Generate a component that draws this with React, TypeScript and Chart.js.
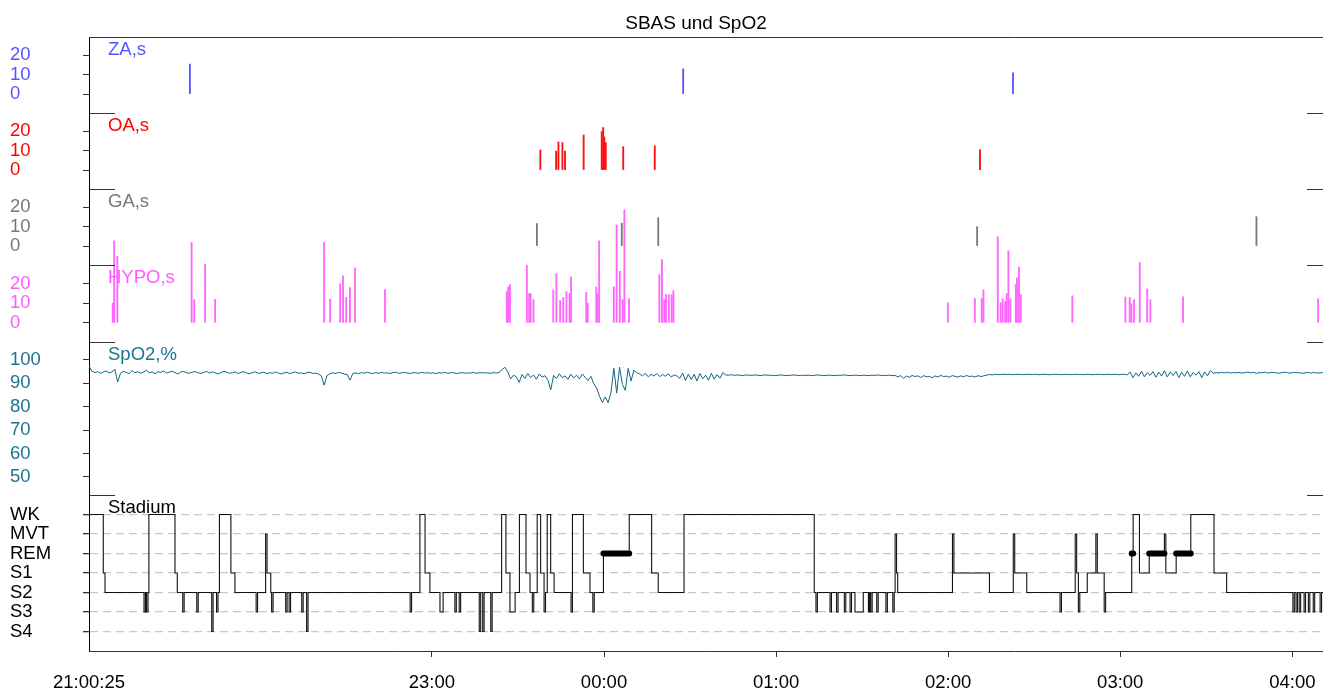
import { useEffect, useRef } from 'react';
import { Chart, registerables } from 'chart.js';

Chart.register(...registerables);

const FONT = '"Liberation Sans", Arial, Helvetica, sans-serif';
const TITLE = 'SBAS und SpO2';

// time unit: minutes after 21:00
const START_MIN = 0.42; // 21:00:25
const END_MIN = 430.7;
const X_TICK_VALUES = [0.42, 120, 180, 240, 300, 360, 420];
const X_TICK_LABELS = ['21:00:25', '23:00', '00:00', '01:00', '02:00', '03:00', '04:00'];

const PANEL_IDS = ['yZA', 'yOA', 'yGA', 'yHYPO', 'ySpO2', 'yStage'];
const PANEL_TITLES = ['ZA,s', 'OA,s', 'GA,s', 'HYPO,s', 'SpO2,%', 'Stadium'];
const PANEL_COLORS = ['#5555ff', '#ff0000', '#777777', '#ff5cff', '#1b7390', '#000000'];

const EVENT_TICKS = [0, 10, 20];
const SPO2_TICKS = [50, 60, 70, 80, 90, 100];
const STAGE_LABELS = ['S4', 'S3', 'S2', 'S1', 'REM', 'MVT', 'WK'];

const ZA_TIMES = [35.6, 207.6, 322.6];
const ZA_DURATIONS = [15.5, 13, 11];

const OA_TIMES = [157.8, 163.3, 164.1, 165.5, 166.4, 172.9, 179.2, 179.7, 180.1, 180.6, 186.7, 197.7, 311.1];
const OA_DURATIONS = [10.4, 9.8, 14.5, 14.2, 9.8, 18.1, 19.9, 22, 17.1, 14.2, 12.1, 12.6, 10.4];

const GA_TIMES = [156.6, 186.2, 198.9, 310.1, 407.5];
const GA_DURATIONS = [11.6, 11.8, 14.7, 10, 15.2];

const HYPO_TIMES = [
  8.7, 9.2, 10.3, 36.2, 37.1, 40.9, 44.4, 82.4, 84.5, 88.0, 89.0, 90.1, 91.4, 93.2, 103.6,
  146.1, 146.6, 147.2, 153.1, 153.9, 154.4, 155.4, 162.3, 163.4, 164.7, 165.8, 166.9, 168.0, 168.5,
  173.8, 174.3, 177.3, 177.7, 178.3, 183.4, 184.4, 185.5, 186.5, 187.1, 188.7,
  199.3, 200.2, 201.0, 201.6, 202.6, 203.6, 204.2,
  299.9, 309.3, 311.7, 312.3, 317.3, 318.3, 319.0, 319.9, 320.4, 321.0, 321.7, 323.6, 324.0, 324.7, 325.3,
  343.3, 361.8, 363.3, 363.9, 364.8, 366.8, 369.4, 370.5, 381.9, 429.0,
];
const HYPO_DURATIONS = [
  10, 41.8, 33.9, 41, 11.8, 30, 12, 41, 12, 20, 24, 13, 18, 28, 17,
  15.9, 18.3, 19.5, 29.4, 14.9, 14.9, 11.8, 16.6, 25.2, 11.4, 13, 15.9, 14.9, 23.5,
  15.5, 10, 18.3, 14.9, 41.8, 18.3, 49.9, 26.3, 11.8, 57.7, 12.4,
  24.6, 32.3, 11.8, 14.4, 14.4, 14.4, 16.4,
  10.2, 12.4, 12.4, 16.9, 43.9, 10.2, 12.3, 10.9, 14.9, 36.8, 12.3, 19.5, 23, 28.5, 14.4,
  13.8, 13.2, 13, 9.7, 11.8, 30.8, 17.3, 11.8, 13.2, 12.3,
];

// SpO2 sampled once per minute from 21:00:25
const SPO2_START = 0.42;
const SPO2_STEP = 1;
const SPO2_VALUES = [
  97.5, 95.2, 94.6, 95.0, 94.3, 94.8, 95.3, 94.5, 94.9, 96.0,
  90.6, 94.4, 95.1, 94.7, 94.2, 95.4, 94.6, 95.0, 94.3, 94.8,
  95.6, 94.5, 94.9, 94.1, 95.0, 94.7, 95.3, 94.4, 94.8, 95.2,
  94.6, 94.0, 94.9, 95.1, 94.5, 94.3, 94.8, 95.0, 94.6, 94.2,
  94.7, 95.1, 94.4, 94.9, 94.5, 94.0, 94.6, 95.2, 94.8, 94.3,
  94.6, 94.9, 94.2, 94.7, 95.0, 94.4, 94.1, 94.6, 94.9, 94.3,
  94.5, 94.8, 94.1, 94.6, 94.3, 94.9, 94.4, 94.0, 94.5, 94.7,
  94.2, 94.6, 94.9, 94.3, 94.5, 94.1, 94.6, 94.8, 94.2, 94.4,
  94.0, 93.2, 89.2, 93.4, 94.1, 94.5, 94.2, 94.7, 94.4, 94.0,
  93.8, 91.4, 94.2, 94.5, 94.1, 94.6, 94.3, 94.8, 94.4, 94.2,
  94.6, 94.3, 94.7, 94.4, 94.5, 94.2, 94.6, 94.8, 94.3, 94.5,
  94.7, 94.4, 94.2, 94.6, 94.5, 94.3, 94.7, 94.4, 94.6, 94.3,
  94.5, 94.2, 94.6, 94.4, 94.7, 94.3, 94.5, 94.6, 94.2, 94.4,
  94.6, 94.3, 94.5, 94.4, 94.7, 94.3, 94.5, 94.6, 94.4, 94.5,
  94.3, 94.6, 94.4, 94.7, 95.8, 96.9, 95.0, 91.9, 93.5, 92.8,
  90.4, 93.8, 92.1, 94.2, 92.5, 93.6, 91.8, 94.0, 92.6, 93.3,
  91.5, 87.2, 93.4, 92.0, 94.1, 92.4, 93.2, 91.7, 93.9, 92.3,
  93.5, 91.9, 94.0, 92.6, 91.2, 93.0, 89.8, 88.0, 84.5, 81.8,
  84.2, 81.7, 86.0, 96.5, 85.8, 96.9, 89.5, 87.0, 96.4, 91.0,
  95.6, 94.6, 94.0, 93.2, 94.3, 92.8, 93.9, 93.1, 94.2, 92.9,
  93.8, 93.0, 94.1, 92.7, 93.6, 93.2, 92.1, 94.4, 91.2, 94.0,
  91.6, 93.9, 91.0, 94.2, 92.0, 93.5, 91.3, 94.3, 91.8, 93.7,
  92.2, 94.6, 93.6, 93.5, 93.7, 93.4, 93.6, 93.5, 93.3, 93.6,
  93.5, 93.4, 93.6, 93.5, 93.3, 93.5, 93.6, 93.4, 93.5, 93.3,
  93.4, 93.6, 93.5, 93.3, 93.4, 93.5, 93.6, 93.4, 93.3, 93.5,
  93.4, 93.5, 93.3, 93.4, 93.6, 93.5, 93.3, 93.4, 93.5, 93.4,
  93.3, 93.5, 93.4, 93.6, 93.5, 93.3, 93.4, 93.5, 93.4, 93.3,
  93.5, 93.4, 93.3, 93.5, 93.4, 93.6, 93.4, 93.3, 93.4, 93.5,
  93.3, 93.4, 92.8, 93.3, 92.2, 93.1, 92.6, 93.4, 92.9, 93.2,
  92.5, 93.3, 92.8, 93.0, 92.4, 93.2, 92.7, 93.4, 92.9, 93.1,
  92.6, 93.3, 93.0, 92.7, 93.2, 92.8, 93.4, 92.9, 93.1, 92.7,
  93.3, 92.9, 93.2, 93.5, 93.8, 93.6, 93.9, 93.7, 93.8, 93.9,
  93.8, 93.9, 93.7, 93.8, 93.9, 93.8, 93.7, 93.9, 93.8, 93.8,
  93.9, 93.7, 93.8, 93.9, 93.8, 93.7, 93.8, 93.9, 93.8, 93.7,
  93.8, 93.9, 93.7, 93.8, 93.9, 93.8, 93.8, 93.7, 93.9, 93.8,
  93.7, 93.8, 93.9, 93.8, 93.7, 93.9, 93.8, 93.8, 93.9, 93.7,
  93.8, 93.9, 93.6, 94.8, 92.4, 94.5, 93.0, 95.2, 92.8, 94.6,
  93.4, 95.0, 92.6, 94.8, 93.1, 95.4, 92.7, 94.9, 93.3, 95.1,
  92.5, 94.7, 93.0, 95.3, 92.8, 94.6, 93.5, 95.0, 92.4, 94.9,
  93.2, 95.5, 94.3, 94.6, 94.4, 94.7, 94.5, 94.8, 94.4, 94.6,
  94.5, 94.7, 94.4, 94.6, 94.8, 94.5, 94.7, 94.3, 94.6, 94.5,
  94.8, 94.4, 94.6, 94.7, 94.5, 94.3, 94.6, 94.8, 94.5, 94.4,
  94.7, 94.5, 94.6, 94.3, 94.5, 94.7, 94.4, 94.6, 94.5, 94.4,
  94.6, 94.5,
];

// Hypnogram: stage starting at each time (minutes after 21:00)
const HYPNO_TIMES = [
  0.42, 5.4, 6.0, 19.6, 20.1, 20.5, 21.0, 21.3, 30.4, 31.2, 33.1, 33.6, 38.0, 38.5, 43.2, 43.7, 44.9, 45.4, 45.9,
  49.9, 51.3, 58.7, 59.2, 62.0, 62.5, 63.8, 64.1, 64.6, 69.0, 69.5, 70.2, 70.7, 74.6, 75.1, 76.3, 76.8,
  112.4, 112.9, 115.8, 117.6, 119.3, 122.8, 123.9, 128.0, 128.5, 129.5, 130.0, 136.5, 137.0, 137.7, 138.2, 140.5, 141.0,
  144.3, 145.8, 147.2, 149.0, 150.5, 152.8, 154.2, 155.0, 155.5, 156.7, 157.9, 159.1, 159.6, 160.2, 161.4, 162.6,
  168.5, 169.0, 172.8, 175.1, 176.1, 176.6, 179.8, 188.8, 196.6, 198.9, 207.9,
  253.3, 253.9, 254.4, 258.8, 259.3, 261.1, 261.6, 263.8, 264.3, 265.8, 266.3, 267.5, 270.4, 272.2, 272.6, 273.0, 273.5,
  275.1, 275.6, 278.3, 278.8, 280.7, 281.2, 281.5, 282.0, 282.4, 301.5, 302.0, 314.4, 322.7, 323.2, 327.4,
  339.0, 339.5, 344.3, 344.8, 345.4, 345.9, 348.5, 351.5, 352.0, 354.4, 354.9, 364.0, 364.5, 366.7, 370.1,
  375.4, 375.9, 379.5, 384.6, 392.7, 397.1, 420.2, 420.7, 421.3, 421.8, 422.4, 422.9, 424.1, 424.6,
  425.6, 426.1, 427.3, 427.8, 429.7, 430.2, 430.7,
];
const HYPNO_STAGES = [
  'WK', 'S1', 'S2', 'S3', 'S2', 'S3', 'S2', 'WK', 'S1', 'S2', 'S3', 'S2', 'S3', 'S2', 'S4', 'S2', 'S3', 'S2', 'WK',
  'S1', 'S2', 'S3', 'S2', 'MVT', 'S1', 'S2', 'S3', 'S2', 'S3', 'S2', 'S3', 'S2', 'S3', 'S2', 'S4', 'S2',
  'S3', 'S2', 'WK', 'S1', 'S2', 'S3', 'S2', 'S3', 'S2', 'S3', 'S2', 'S4', 'S2', 'S4', 'S2', 'S4', 'S2',
  'WK', 'S1', 'S3', 'S2', 'WK', 'S1', 'S2', 'S3', 'S2', 'WK', 'S1', 'S3', 'S2', 'WK', 'S1', 'S2',
  'S3', 'WK', 'S1', 'S2', 'S3', 'S2', 'REM', 'WK', 'S1', 'S2', 'WK',
  'S2', 'S3', 'S2', 'S3', 'S2', 'S3', 'S2', 'S3', 'S2', 'S3', 'S2', 'S3', 'S2', 'S3', 'S2', 'S3', 'S2',
  'S3', 'S2', 'S3', 'S2', 'S3', 'S2', 'MVT', 'S1', 'S2', 'MVT', 'S1', 'S2', 'MVT', 'S1', 'S2',
  'S3', 'S2', 'MVT', 'S1', 'S3', 'S2', 'S1', 'MVT', 'S1', 'S3', 'S2', 'REM', 'WK', 'S1', 'REM',
  'MVT', 'S1', 'REM', 'WK', 'S1', 'S2', 'S3', 'S2', 'S3', 'S2', 'S3', 'S2', 'S3', 'S2',
  'S3', 'S2', 'S3', 'S2', 'S3', 'S2', 'S2',
];

const eventAxis = (color: string, order: number, stackWeight: number) => ({
  type: 'linear',
  position: 'left',
  stack: 'panels',
  stackWeight,
  weight: order,
  min: -9.8,
  max: 29.5,
  afterBuildTicks: (s: any) => { s.ticks = EVENT_TICKS.map((v) => ({ value: v })); },
  afterFit: (s: any) => { s.width = 79; },
  ticks: { color, font: { family: FONT, size: 18.5 }, crossAlign: 'far', padding: 0, autoSkip: false },
  grid: { drawOnChartArea: false, drawTicks: true, tickLength: 6, tickColor: '#333' },
  border: { display: true, color: '#000', width: 1 },
});

const barSet = (times: number[], durs: number[], color: string, yAxisID: string) => ({
  type: 'bar',
  data: times.map((t, i) => ({ x: t, y: durs[i] })),
  backgroundColor: color,
  borderWidth: 0,
  barThickness: 1.2,
  grouped: false,
  clip: { left: 0, right: 0, top: 300, bottom: 0 },
  xAxisID: 'x',
  yAxisID,
  order: 2,
});

const decorPlugin = {
  id: 'decor',
  afterDatasetsDraw(chart: any) {
    const { ctx, chartArea } = chart;
    ctx.save();
    ctx.strokeStyle = '#333';
    ctx.lineWidth = 1;
    ctx.beginPath();
    ctx.moveTo(chartArea.left, Math.round(chartArea.top) + 0.5);
    ctx.lineTo(chartArea.right, Math.round(chartArea.top) + 0.5);
    ctx.stroke();
    PANEL_IDS.forEach((id, i) => {
      const s = chart.scales[id];
      if (i > 0) {
        const y = Math.round(s.top) + 0.5;
        ctx.beginPath();
        ctx.moveTo(chartArea.left, y);
        ctx.lineTo(chartArea.left + 26, y);
        ctx.moveTo(chartArea.right - 16, y);
        ctx.lineTo(chartArea.right, y);
        ctx.stroke();
      }
      ctx.fillStyle = PANEL_COLORS[i];
      ctx.font = `18.5px ${FONT}`;
      ctx.textAlign = 'left';
      ctx.textBaseline = 'alphabetic';
      ctx.fillText(PANEL_TITLES[i], chartArea.left + 19, s.top + 17.5);
    });
    ctx.fillStyle = '#000';
    ctx.font = `19px ${FONT}`;
    ctx.textAlign = 'center';
    ctx.fillText(TITLE, 696, 28.5);
    ctx.restore();
  },
};

export default function App() {
  const ref = useRef<HTMLCanvasElement | null>(null);

  useEffect(() => {
    if (!ref.current) return;
    const hypno = HYPNO_TIMES.map((t, i) => ({ x: t, y: STAGE_LABELS.indexOf(HYPNO_STAGES[i]) }));
    const rem: any[] = [];
    HYPNO_TIMES.forEach((t, i) => {
      if (HYPNO_STAGES[i] === 'REM' && i + 1 < HYPNO_TIMES.length) {
        rem.push({ x: t, y: 4 }, { x: HYPNO_TIMES[i + 1], y: 4 }, { x: HYPNO_TIMES[i + 1], y: null });
      }
    });

    const chart = new Chart(ref.current, {
      type: 'bar',
      data: {
        datasets: [
          barSet(ZA_TIMES, ZA_DURATIONS, '#5555ff', 'yZA'),
          barSet(OA_TIMES, OA_DURATIONS, '#ff1010', 'yOA'),
          barSet(GA_TIMES, GA_DURATIONS, '#7a7a7a', 'yGA'),
          barSet(HYPO_TIMES, HYPO_DURATIONS, '#ff66ff', 'yHYPO'),
          {
            type: 'line',
            data: SPO2_VALUES.map((v, i) => ({ x: SPO2_START + i * SPO2_STEP, y: v })),
            borderColor: '#0e6682',
            borderWidth: 1,
            pointRadius: 0,
            tension: 0,
            xAxisID: 'x',
            yAxisID: 'ySpO2',
            order: 1,
          },
          {
            type: 'line',
            data: hypno,
            stepped: 'before',
            borderColor: '#111',
            borderWidth: 1.1,
            pointRadius: 0,
            xAxisID: 'x',
            yAxisID: 'yStage',
            order: 1,
          },
          {
            type: 'line',
            data: rem,
            spanGaps: false,
            borderColor: '#000',
            borderWidth: 6,
            borderCapStyle: 'round',
            pointRadius: 0,
            xAxisID: 'x',
            yAxisID: 'yStage',
            order: 0,
          },
        ] as any,
      },
      options: {
        responsive: false,
        animation: false,
        events: [],
        layout: { padding: { left: 10, right: 0, top: 37, bottom: 0 } },
        plugins: { legend: { display: false }, tooltip: { enabled: false }, title: { display: false } },
        scales: {
          x: {
            type: 'linear',
            position: 'bottom',
            offset: false,
            min: START_MIN,
            max: END_MIN,
            afterBuildTicks: (s: any) => { s.ticks = X_TICK_VALUES.map((v) => ({ value: v })); },
            afterFit: (s: any) => { s.height = 40; },
            ticks: {
              autoSkip: false,
              maxRotation: 0,
              padding: 2,
              color: '#000',
              font: { family: FONT, size: 18.5, lineHeight: 2.6 },
              callback: (_v: any, i: number) => X_TICK_LABELS[i],
            },
            grid: {
              offset: false,
              drawOnChartArea: false,
              drawTicks: true,
              tickLength: 6,
              tickColor: (c: any) => (c.index === 0 ? 'rgba(0,0,0,0)' : '#333'),
            },
            border: { display: true, color: '#333', width: 1 },
          },
          yZA: eventAxis(PANEL_COLORS[0], 6, 76),
          yOA: eventAxis(PANEL_COLORS[1], 5, 76),
          yGA: eventAxis(PANEL_COLORS[2], 4, 76),
          yHYPO: eventAxis(PANEL_COLORS[3], 3, 77),
          ySpO2: {
            type: 'linear',
            position: 'left',
            stack: 'panels',
            stackWeight: 153,
            weight: 2,
            min: 42.2,
            max: 107.7,
            afterBuildTicks: (s: any) => { s.ticks = SPO2_TICKS.map((v) => ({ value: v })); },
            afterFit: (s: any) => { s.width = 79; },
            ticks: { color: PANEL_COLORS[4], font: { family: FONT, size: 18.5 }, crossAlign: 'far', padding: 0, autoSkip: false },
            grid: { drawOnChartArea: false, drawTicks: true, tickLength: 6, tickColor: '#333' },
            border: { display: true, color: '#000', width: 1 },
          },
          yStage: {
            type: 'linear',
            position: 'left',
            stack: 'panels',
            stackWeight: 156,
            weight: 1,
            min: -1,
            max: 7,
            afterBuildTicks: (s: any) => { s.ticks = STAGE_LABELS.map((_l, i) => ({ value: i })); },
            afterFit: (s: any) => { s.width = 79; },
            ticks: {
              color: '#000',
              font: { family: FONT, size: 18.5 },
              crossAlign: 'far',
              padding: 0,
              autoSkip: false,
              callback: (v: any) => STAGE_LABELS[v],
            },
            grid: {
              drawOnChartArea: true,
              color: '#c8c8c8',
              lineWidth: 1.3,
              drawTicks: true,
              tickLength: 6,
              tickColor: '#333',
              tickBorderDash: [],
            },
            border: { display: true, color: '#000', width: 1, dash: [8, 5] },
          },
        } as any,
      },
      plugins: [decorPlugin],
    } as any);

    return () => chart.destroy();
  }, []);

  return (
    <div style={{ position: 'fixed', left: 0, top: 0, width: 1323, height: 691, background: '#fff' }}>
      <canvas ref={ref} width={1323} height={691} style={{ display: 'block' }} />
    </div>
  );
}
